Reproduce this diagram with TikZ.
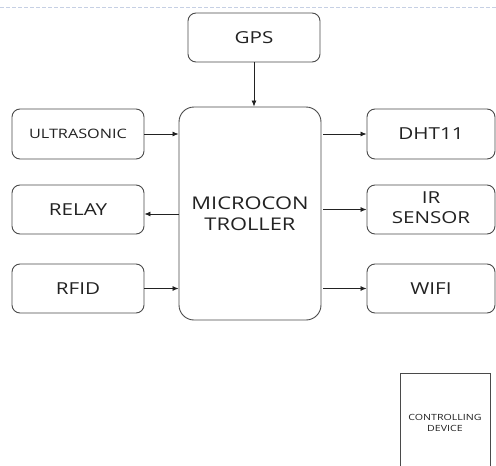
\documentclass[tikz,border=0pt]{standalone}
\usepackage{fontspec}
\setmainfont[FakeStretch=1.25]{Open Sans}
\usetikzlibrary{arrows.meta}
\definecolor{boxline}{HTML}{4A4A4A}
\definecolor{ink}{HTML}{222222}
\definecolor{faint}{HTML}{C6D0E4}
\begin{document}
\begin{tikzpicture}[x=1pt,y=-1pt,
  box/.style={draw=boxline,line width=0.9pt,rounded corners=8pt,
    minimum width=#1,inner sep=0pt,text=ink,align=center,
    font=\fontsize{16.5}{20.5}\selectfont},
  box/.default=132pt,
  arr/.style={draw=ink,line width=0.8pt,-{Latex[length=6pt,width=5pt]}}]
\useasboundingbox (0,0) rectangle (496,466);
\fill[white] (0,0) rectangle (496,466);
% faint line along the top edge
\draw[faint,line width=0.6pt,dash pattern=on 4pt off 2pt] (0,7) -- (496,7);

% blocks
\node[box, minimum height=49pt] (gps) at (254,37.5) {GPS};
\node[box=142pt, minimum height=213pt, rounded corners=15pt,
  font=\fontsize{17.5}{20.5}\selectfont] (mcu) at (250,213.5) {MICROCON\\TROLLER};

\node[box, minimum height=50pt, font=\fontsize{13}{16}\selectfont] (ultra) at (78,134) {ULTRASONIC};
\node[box, minimum height=49pt] (relay) at (78,209.5) {RELAY};
\node[box, minimum height=49pt] (rfid) at (78,288.5) {RFID};

\node[box=128pt, minimum height=50pt] (dht) at (431,134) {DHT11};
\node[box=128pt, minimum height=49pt] (ir) at (431,209.5)
  {\raisebox{-3.5pt}{\begin{tabular}{@{}c@{}}IR\\SENSOR\end{tabular}}};
\node[box=128pt, minimum height=49pt] (wifi) at (431,288.5) {WIFI};

% controlling device, running off the lower edge
\draw[boxline,line width=0.9pt] (400,466) -- (400,373) -- (490,373) -- (490,466);
\node[text=ink,align=center,inner sep=0pt,
  font=\fontsize{8.5}{11}\selectfont] (ctrl) at (445,423) {CONTROLLING\\DEVICE};

% connections
\draw[arr] (gps.south) -- (gps.south |- mcu.north);
\draw[arr] (ultra.east) -- (mcu.west |- ultra.east);
\draw[arr] ([yshift=-4.5pt]mcu.west |- relay.east) -- ([yshift=-4.5pt]relay.east);
\draw[arr] (rfid.east) -- (mcu.west |- rfid.east);
\draw[arr] ([xshift=2pt]mcu.east |- dht.west) -- (dht.west);
\draw[arr] ([xshift=2pt]mcu.east |- ir.west) -- (ir.west);
\draw[arr] ([xshift=2pt]mcu.east |- wifi.west) -- (wifi.west);
\end{tikzpicture}
\end{document}
